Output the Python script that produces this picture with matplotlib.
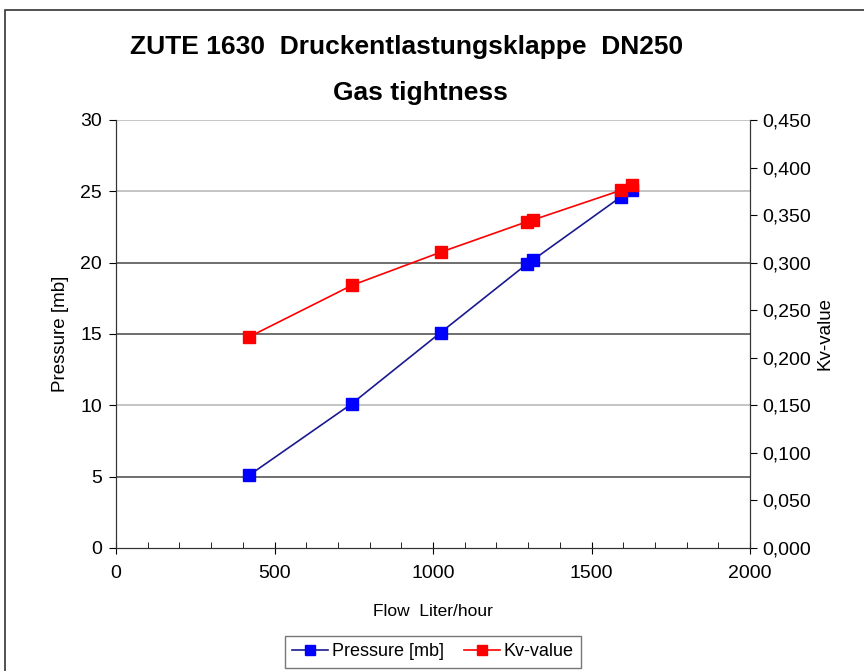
import matplotlib.pyplot as plt
from matplotlib.ticker import MultipleLocator, FuncFormatter
from matplotlib.patches import Rectangle

# --- data ---
flow = [420, 743, 1024, 1296, 1316, 1592, 1627]
pressure = [5.1, 10.1, 15.1, 19.9, 20.2, 24.6, 25.1]
kv_value = [0.222, 0.276, 0.311, 0.343, 0.345, 0.376, 0.382]

TITLE = 'ZUTE 1630  Druckentlastungsklappe  DN250'
SUBTITLE = 'Gas tightness'

plt.rcParams['font.family'] = ['Liberation Sans', 'DejaVu Sans']

fig = plt.figure(figsize=(8.64, 6.71), dpi=100)
ax = fig.add_axes([116 / 864, 1 - 548 / 671, 634 / 864, 428 / 671])
ax2 = ax.twinx()

# gridlines (some darker, as in the original)
for v in [5, 15, 20]:
    ax.axhline(v, color='#555555', lw=1.2, zorder=0)
for v in [10, 25, 30]:
    ax.axhline(v, color='#bbbbbb', lw=1.2, zorder=0)

ax.plot(flow, pressure, color='#1a1a90', lw=1.2, marker='s', ms=9,
        mfc='#0000ff', mec='#0000ff', label='Pressure [mb]', zorder=3)
ax2.plot(flow, kv_value, color='#ff0000', lw=1.2, marker='s', ms=9,
         mfc='#ff0000', mec='#ff0000', label='Kv-value', zorder=3)

ax.set_xlim(0, 2000)
ax.set_ylim(0, 30)
ax2.set_ylim(0, 0.45)

ax.xaxis.set_major_locator(MultipleLocator(500))
ax.xaxis.set_minor_locator(MultipleLocator(100))
ax.yaxis.set_major_locator(MultipleLocator(5))
ax2.yaxis.set_major_locator(MultipleLocator(0.05))
ax2.yaxis.set_major_formatter(FuncFormatter(lambda v, p: f'{v:.3f}'.replace('.', ',')))

ax.tick_params(axis='x', which='major', direction='inout', length=8, labelsize=14, pad=8)
ax.tick_params(axis='x', which='minor', direction='in', length=4)
ax.tick_params(axis='y', direction='out', length=5, labelsize=14, pad=5)
ax2.tick_params(axis='y', direction='out', length=5, labelsize=14)

for a in (ax, ax2):
    a.spines['top'].set_visible(False)
    for s in ['left', 'right', 'bottom']:
        a.spines[s].set_color('#333333')

ax.set_xlabel('Flow  Liter/hour', fontsize=12.5, labelpad=16)
ax.set_ylabel('Pressure [mb]', fontsize=13.5, labelpad=8)
ax2.set_ylabel('Kv-value', fontsize=13.5, labelpad=4)

fig.text(407 / 864, 1 - 47 / 671, TITLE, ha='center', va='center',
         fontsize=19, fontweight='bold')
fig.text(420 / 864, 1 - 93 / 671, SUBTITLE, ha='center', va='center',
         fontsize=19, fontweight='bold')

h1, l1 = ax.get_legend_handles_labels()
h2, l2 = ax2.get_legend_handles_labels()
fig.legend(h1 + h2, l1 + l2, loc='center', bbox_to_anchor=(433 / 864, 1 - 652 / 671),
           ncol=2, fontsize=13, frameon=True, fancybox=False, edgecolor='#555555',
           markerscale=0.8, handlelength=2.0, handletextpad=0.2,
           columnspacing=1.1, borderpad=0.4)

# outer chart border
fig.patches.append(Rectangle((5 / 864, -0.01), 1.2, 1 - 10 / 671 + 0.01,
                             transform=fig.transFigure, fill=False,
                             edgecolor='#333333', lw=1.2))

fig.savefig('out.png', dpi=100)
